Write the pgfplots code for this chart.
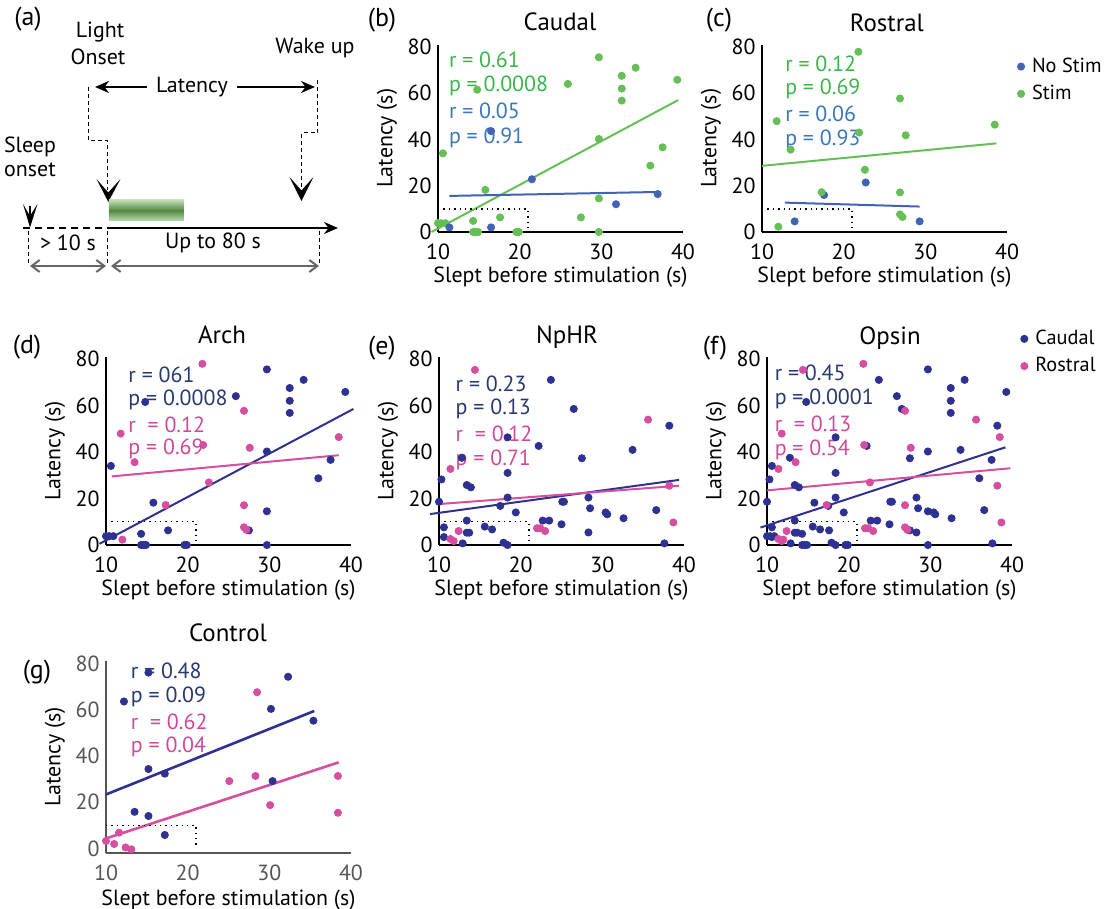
\documentclass[border=0pt]{standalone}
\usepackage{fontspec}
\setmainfont{PT Sans}
\usepackage{pgfplots}
\usepackage{pgfplotstable}
\pgfplotsset{compat=1.18}
\usetikzlibrary{arrows.meta}

\definecolor{stimG}{RGB}{101,190,86}
\definecolor{stimGt}{RGB}{57,181,74}
\definecolor{nostimB}{RGB}{66,98,182}
\definecolor{nostimBt}{RGB}{58,118,190}
\definecolor{cauN}{RGB}{46,49,146}
\definecolor{cauNt}{RGB}{40,56,112}
\definecolor{rosP}{RGB}{214,78,158}
\definecolor{rosPt}{RGB}{208,72,152}
\definecolor{axgray}{RGB}{85,85,85}
\definecolor{barDark}{RGB}{84,136,64}
\definecolor{barLight}{RGB}{190,222,178}

\newcommand{\fs}{\fontsize{11}{13}\selectfont}
\newcommand{\fg}{\fontsize{10.2}{12}\selectfont}
\newcommand{\ft}{\fontsize{12.5}{15}\selectfont}
\newcommand{\fl}{\fontsize{13}{15}\selectfont}

% caudal, light on (Arch)
\pgfplotstableread{
x y
10.0 3.8
10.4 3.8
10.9 3.8
10.6 34
14.8 61.5
15.8 18.2
14.3 4.8
14.3 0
14.6 0
14.9 0
17.6 6.3
19.6 0
19.9 0
25.9 64
27.5 6.3
29.7 75.5
29.7 40.2
29.7 14.5
29.7 0
32.5 67.5
32.5 62
32.5 56.8
34.2 71
36.0 28.7
37.5 36.6
39.3 65.8
}\cauStim
% rostral, light on (Arch)
\pgfplotstableread{
x y
21.8 77.9
11.8 47.9
13.5 35.6
21.9 43
26.9 57.7
27.6 41.8
38.5 46.4
22.6 26.9
17.3 17.2
26.9 17.1
26.9 7.6
27.2 6.5
12.0 2.3
}\rosStim
\pgfplotstableread{
x y
11.4 2
16.5 43.6
16.5 2
21.5 22.8
31.8 12
36.9 16.4
}\cauNo
\pgfplotstableread{
x y
17.6 16
22.7 21.4
14.0 4.6
29.3 4.6
}\rosNo
% NpHR
\pgfplotstableread{
x y
10.3 28.2
10.0 18.6
10.6 7.6
10.6 3.4
12.8 37.5
13.4 25.8
13.9 24.8
13.4 10.5
13.4 5.3
13.7 5.3
12.9 0.7
15.6 7.9
16.5 6.7
17.5 16.8
17.9 1
18.4 0
18.4 46.3
18.4 31
18.4 20.4
19.4 14
22.2 42.6
22.7 10.5
23.5 10.5
23.7 71
25.1 18.6
25.3 18.6
25.0 8.9
26.5 58.5
27.5 37.3
28.3 20.4
28.5 15.8
28.3 5.4
30.4 14
30.6 13.2
32.6 11.5
33.7 40.9
36.6 15
37.6 0.7
38.2 51.3
}\npCau
\pgfplotstableread{
x y
14.4 75.3
11.4 32.7
12.4 6
11.4 2.6
11.8 1.7
22.0 7.2
22.4 7.2
23.0 6
35.6 53.9
38.2 25.5
38.7 9.7
}\npRos
% Control
\pgfplotstableread{
x y
15.2 76
12.2 63.5
32.3 74.2
30.2 60.3
35.4 55.2
15.2 34.3
17.2 32.3
30.4 29.1
13.5 15.8
15.2 14.0
17.2 5.8
}\ctCau
\pgfplotstableread{
x y
28.5 67.5
25.1 29.1
28.3 31.3
38.4 31.3
30.1 18.7
38.4 15.4
11.6 6.8
10.0 3.2
11.0 1.9
12.4 0.4
13.1 -0.4
}\ctRos

\pgfplotsset{
  panel/.style={
    scale only axis, width=122.5bp, height=94.2bp,
    anchor=south west,
    xmin=10, xmax=40, ymin=0, ymax=81,
    axis lines*=left,
    axis line style={line width=1.2bp},
    xtick={10,20,30,40}, ytick={0,20,40,60,80},
    major tick length=0pt,
    tick label style={font=\fs},
    every x tick label/.append style={anchor=center, yshift=-10bp},
    every y tick label/.append style={anchor=east, inner sep=0pt, xshift=-3bp},
    /pgf/number format/assume math mode=true,
    xlabel={Slept before stimulation (s)},
    ylabel={Latency (s)},
    every axis x label/.style={at={(axis description cs:0.5,0)},
      anchor=center, yshift=-22.5bp, font=\fs},
    every axis y label/.style={at={(axis description cs:-0.208,0.5)},
      anchor=center, rotate=90, font=\fs},
    clip=false,
    legend image code/.code={\draw[#1] plot coordinates {(0bp,0bp)};},
    legend style={draw=none, fill=none, font=\fg, anchor=west,
      row sep=2.5bp, inner sep=0pt, nodes={inner sep=1.2bp},
      /tikz/every odd column/.append style={column sep=2.5bp}},
    legend cell align=left,
  },
  dots/.style={only marks, mark=*, mark size=1.8bp, color=#1},
  fit/.style={no marks, line width=1bp, color=#1, forget plot},
}
\newcommand{\dotbox}{\draw[line width=0.7bp, dash pattern=on 0.7bp off 2bp]
  (axis cs:10,10) -- (axis cs:21,10) -- (axis cs:21,0);}

\begin{document}
\begin{tikzpicture}

% ---- panel (a) and all labels, in pixel units of the reference
\begin{scope}[x=0.5bp, y=-0.5bp]
\node[font=\fl] at (28,19) {(a)};
\node[font=\fs] at (100,32) {Light};
\node[font=\fs] at (98,57) {Onset};
\node[font=\fs] at (315,48) {Wake up};
\node[font=\fs] at (192,87) {Latency};
\node[font=\fs] at (30,147) {Sleep};
\node[font=\fs] at (30,170) {onset};
\node[font=\fs] at (68,243) {> 10 s};
\node[font=\fs] at (213,243) {Up to 80 s};
\draw[line width=1.1bp, -{Stealth[length=7bp,width=6bp]}] (147,87) -- (95,87);
\draw[line width=1.1bp, -{Stealth[length=7bp,width=6bp]}] (237,87) -- (315,87);
\draw[line width=0.5bp, dash pattern=on 2bp off 1.5bp] (89,87) -- (89,141) -- (108,141) -- (108,190);
\draw[line width=0.5bp, dash pattern=on 2bp off 1.5bp] (318,80) -- (318,133) -- (302,133) -- (302,188);
\draw[line width=0.6bp] (30,206) -- (30,216);
\fill (30,227.5) -- (23,204) -- (30,216) -- (37.5,204) -- cycle;
\fill (108.3,202) -- (96.5,179) -- (108.3,192.5) -- (120.5,179) -- cycle;
\fill (301.5,201) -- (289.5,177) -- (301.5,190.5) -- (313.5,177) -- cycle;
\shade[top color=barLight, bottom color=barLight, middle color=barDark]
  (109,200) rectangle (184,221);
\draw[line width=1.1bp, dash pattern=on 3.5bp off 2.5bp] (23,228) -- (108,228);
\draw[line width=1.1bp, -{Stealth[length=7bp,width=6bp]}] (108,228) -- (338,228);
\draw[line width=0.5bp, dash pattern=on 2bp off 1.5bp] (29,231) -- (29,263);
\draw[line width=0.5bp, dash pattern=on 2bp off 1.5bp] (108,231) -- (108,263);
\draw[line width=0.5bp, dash pattern=on 2bp off 1.5bp] (320,231) -- (320,263);
\draw[axgray!90, line width=1bp, {Straight Barb[length=4bp,width=6bp]}-{Straight Barb[length=4bp,width=6bp]}] (30,266) -- (106,266);
\draw[axgray!90, line width=1bp, {Straight Barb[length=4bp,width=6bp]}-{Straight Barb[length=4bp,width=6bp]}] (111,266) -- (319,266);
% panel letters and titles
\node[font=\fl] at (382,20) {(b)};
\node[font=\ft] at (560,22) {Caudal};
\node[font=\fl] at (719,20) {(c)};
\node[font=\ft] at (887,23) {Rostral};
\node[font=\fl] at (27,347) {(d)};
\node[font=\ft] at (222,335) {Arch};
\node[font=\fl] at (382,348) {(e)};
\node[font=\ft] at (567,337) {NpHR};
\node[font=\fl] at (715,348) {(f)};
\node[font=\ft] at (890,338) {Opsin};
\node[font=\fl] at (37,672) {(g)};
\node[font=\ft] at (228,633) {Control};
\end{scope}

% ---- (b) Caudal
\begin{axis}[panel, at={(219bp,-116bp)}, height=93.7bp]
\addplot[dots=stimG] table {\cauStim};
\addplot[dots=nostimB] table {\cauNo};
\addplot[fit=stimG] coordinates {(9.2,0) (39.4,57)};
\addplot[fit=nostimB] coordinates {(11.4,15.6) (36.9,17.3)};
\dotbox
\node[anchor=west, font=\fs, text=stimGt, inner sep=0pt] at (axis cs:11.3,74.2) {r = 0.61};
\node[anchor=west, font=\fs, text=stimGt, inner sep=0pt] at (axis cs:11.3,63.3) {p = 0.0008};
\node[anchor=west, font=\fs, text=nostimBt, inner sep=0pt] at (axis cs:11.3,52.4) {r = 0.05};
\node[anchor=west, font=\fs, text=nostimBt, inner sep=0pt] at (axis cs:11.3,40.7) {p = 0.91};
\end{axis}

% ---- (c) Rostral
\begin{axis}[panel, at={(381bp,-116bp)}, height=93.7bp,
  legend style={at={(axis description cs:1.041,0.81)}}]
\addplot[dots=nostimB] table {\rosNo};
\addlegendentry{No Stim}
\addplot[dots=stimG] table {\rosStim};
\addlegendentry{Stim}
\addplot[fit=stimG] coordinates {(10,28.6) (38.7,38.3)};
\addplot[fit=nostimB] coordinates {(12.8,12.7) (29.3,11)};
\dotbox
\node[anchor=west, font=\fs, text=stimGt, inner sep=0pt] at (axis cs:12.8,72.9) {r = 0.12};
\node[anchor=west, font=\fs, text=stimGt, inner sep=0pt] at (axis cs:12.8,62) {p = 0.69};
\node[anchor=west, font=\fs, text=nostimBt, inner sep=0pt] at (axis cs:12.8,51) {r = 0.06};
\node[anchor=west, font=\fs, text=nostimBt, inner sep=0pt] at (axis cs:12.8,40) {p = 0.93};
\end{axis}

% ---- (d) Arch
\begin{axis}[panel, at={(53bp,-272.5bp)}]
\addplot[dots=cauN] table {\cauStim};
\addplot[dots=rosP] table {\rosStim};
\addplot[fit=cauN] coordinates {(9.2,0.5) (40.3,58.5)};
\addplot[fit=rosP] coordinates {(10.7,29.5) (38.5,38.6)};
\dotbox
\node[anchor=west, font=\fs, text=cauNt, inner sep=0pt] at (axis cs:12.7,73.2) {r = 061};
\node[anchor=west, font=\fs, text=cauNt, inner sep=0pt] at (axis cs:12.7,62.5) {p = 0.0008};
\node[anchor=west, font=\fs, text=rosPt, inner sep=0pt] at (axis cs:12.7,51.8) {r \ = 0.12};
\node[anchor=west, font=\fs, text=rosPt, inner sep=0pt] at (axis cs:12.7,41.2) {p = 0.69};
\end{axis}

% ---- (e) NpHR
\begin{axis}[panel, at={(219.5bp,-272.5bp)}]
\addplot[dots=cauN] table {\npCau};
\addplot[dots=rosP] table {\npRos};
\addplot[fit=cauN] coordinates {(8.9,13.3) (39.4,28)};
\addplot[fit=rosP] coordinates {(10,17.6) (39.4,25.5)};
\dotbox
\node[anchor=west, font=\fs, text=cauNt, inner sep=0pt] at (axis cs:12,69.5) {r = 0.23};
\node[anchor=west, font=\fs, text=cauNt, inner sep=0pt] at (axis cs:12,58.5) {p = 0.13};
\node[anchor=west, font=\fs, text=rosPt, inner sep=0pt] at (axis cs:12,47.6) {r \ = 0.12};
\node[anchor=west, font=\fs, text=rosPt, inner sep=0pt] at (axis cs:12,36.6) {p = 0.71};
\end{axis}

% ---- (f) Opsin
\begin{axis}[panel, at={(383.5bp,-272.5bp)},
  legend style={at={(axis description cs:1.034,1.022)}}]
\addplot[dots=cauN] table {\cauStim};
\addlegendentry{Caudal}
\addplot[dots=cauN, forget plot] table {\npCau};
\addplot[dots=rosP] table {\rosStim};
\addlegendentry{Rostral}
\addplot[dots=rosP, forget plot] table {\npRos};
\addplot[fit=cauN] coordinates {(9.2,7.5) (39.2,42)};
\addplot[fit=rosP] coordinates {(10,23.5) (39.8,33)};
\dotbox
\node[anchor=west, font=\fs, text=cauNt, inner sep=0pt] at (axis cs:10.9,74) {r = 0.45};
\node[anchor=west, font=\fs, text=cauNt, inner sep=0pt] at (axis cs:10.9,63) {p = 0.0001};
\node[anchor=west, font=\fs, text=rosPt, inner sep=0pt] at (axis cs:10.9,52) {r \ = 0.13};
\node[anchor=west, font=\fs, text=rosPt, inner sep=0pt] at (axis cs:10.9,41) {p = 0.54};
\end{axis}

% ---- (g) Control
\begin{axis}[panel, at={(53bp,-426.5bp)}, ymin=-2, height=96bp,
  axis line style={line width=1.2bp, axgray},
  tick label style={font=\fs, text=axgray},
  every axis x label/.append style={yshift=-1bp}]
\node[anchor=west, font=\fs, text=cauNt, inner sep=0pt] at (axis cs:13,76.6) {r = 0.48};
\node[anchor=west, font=\fs, text=cauNt, inner sep=0pt] at (axis cs:13,65.6) {p = 0.09};
\node[anchor=west, font=\fs, text=rosPt, inner sep=0pt] at (axis cs:13,54.8) {r \ = 0.62};
\node[anchor=west, font=\fs, text=rosPt, inner sep=0pt] at (axis cs:13,43.7) {p = 0.04};
\addplot[dots=cauN] table {\ctCau};
\addplot[dots=rosP] table {\ctRos};
\addplot[fit=cauN, line width=1.3bp] coordinates {(10,23.3) (35.5,59.4)};
\addplot[fit=rosP, line width=1.3bp] coordinates {(10,4.3) (38.5,37.2)};
\dotbox
\end{axis}

% fix the page to the reference's 1105 x 909 px frame
\pgfresetboundingbox
\path[use as bounding box] (0bp,0bp) rectangle (552.5bp,-454.5bp);
\end{tikzpicture}
\end{document}
